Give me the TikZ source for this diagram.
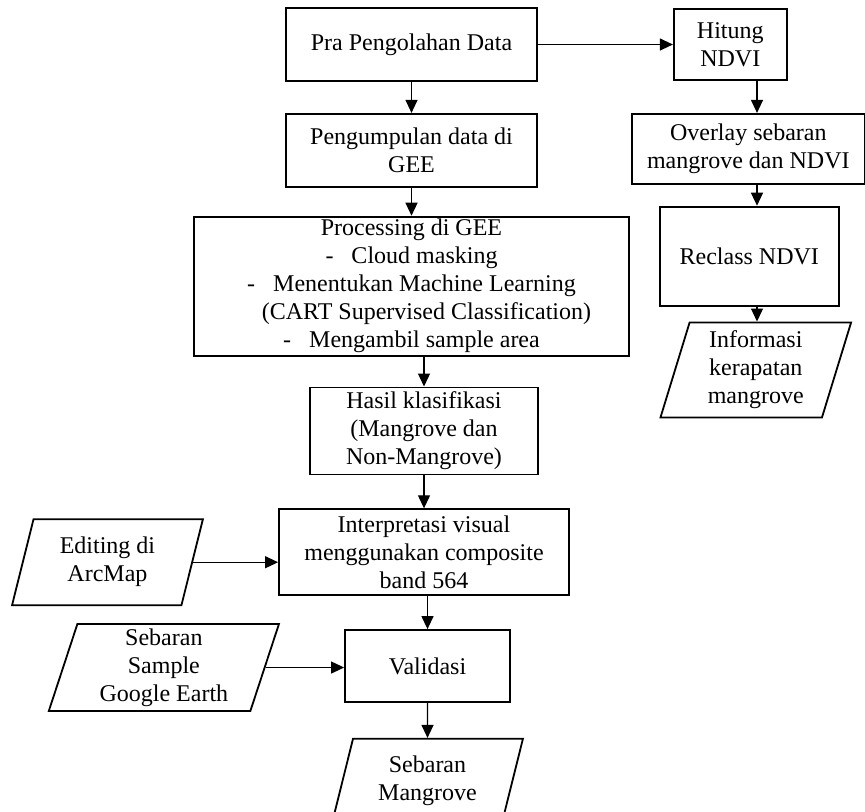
\documentclass[tikz,border=0pt]{standalone}
\usepackage{fontspec}
\setmainfont{Liberation Serif}
\usepackage{tikz}
\usetikzlibrary{positioning, arrows.meta, calc, shapes.geometric}
\tikzset{
  process/.style={
    rectangle, draw, line width=0.9pt, inner sep=1pt,
    align=center, font=\fontsize{12}{14}\selectfont
  },
  dataio/.style={
    trapezium, trapezium left angle=75, trapezium right angle=105,
    trapezium stretches=true, draw, line width=0.9pt, inner sep=1pt,
    align=center, font=\fontsize{12}{14}\selectfont
  },
  every edge/.style={draw, -{Triangle[length=6.5pt,width=6pt]}, line width=0.6pt},
}

\begin{document}
\begin{tikzpicture}[x=0.5pt, y=-0.5pt]
  \useasboundingbox (0,0) rectangle (865,811);
  \coordinate (ncol) at (757,0);
  % kolom utama
  \node[process, minimum width=125.5pt, minimum height=36.5pt] (pra) at (411.5,44.5) {Pra Pengolahan Data};
  \node[process, minimum width=125.5pt, minimum height=36.5pt, below=15.5pt of pra] (kumpul) {Pengumpulan data di\\GEE};
  \node[process, minimum width=217.5pt, minimum height=69.5pt, inner ysep=0pt, below=14pt of kumpul] (proc)
    {Processing di GEE\\
     -\hspace{9pt}Cloud masking\\
     -\hspace{9pt}Menentukan Machine Learning\\
     \hspace*{15pt}(CART Supervised Classification)\\
     -\hspace{9pt}Mengambil sample area};
  \node[process, minimum width=114pt, minimum height=43.5pt, below=15pt of proc, xshift=6.25pt] (hasil)
    {Hasil klasifikasi\\(Mangrove dan\\Non-Mangrove)};
  \node[process, minimum width=145pt, minimum height=43pt, below=16.5pt of hasil] (interp)
    {Interpretasi visual\\menggunakan composite\\band 564};
  \node[process, minimum width=82.5pt, minimum height=36pt, below=16.5pt of interp, xshift=1.75pt] (valid) {Validasi};
  \node[dataio, minimum width=95.5pt, minimum height=42pt, below=17.5pt of valid] (sebmang) {Sebaran\\Mangrove};
  % kolom NDVI
  \node[process, minimum width=56.5pt, minimum height=35.5pt, right=67.5pt of pra] (hitung) {Hitung\\NDVI};
  \node[process, minimum width=116.5pt, minimum height=35pt, below=16pt of hitung, xshift=9pt] (overlay)
    {Overlay sebaran\\mangrove dan NDVI};
  \node[process, minimum width=89.5pt, minimum height=49.5pt, below=10.5pt of overlay, xshift=0.5pt] (reclass) {Reclass NDVI};
  \node[dataio, minimum width=96pt, minimum height=47.5pt, below=7.5pt of reclass, xshift=3.25pt] (info)
    {Informasi\\kerapatan\\mangrove};
  % masukan kiri
  \node[dataio, minimum width=95.5pt, minimum height=43pt, left=42.5pt of interp, yshift=-5pt] (editing) {Editing di\\ArcMap};
  \node[dataio, minimum width=115.5pt, minimum height=43.5pt, left=39.25pt of valid, yshift=-0.75pt] (sebsample)
    {Sebaran\\Sample\\Google Earth};

  \path (pra) edge (hitung)
        (pra) edge (kumpul)
        (kumpul) edge (proc)
        (proc.south -| hasil.north) edge (hasil)
        (hasil) edge (interp)
        (interp.south -| valid.north) edge (valid)
        (valid) edge (sebmang)
        (editing.east) edge (editing.east -| interp.west)
        (sebsample.east) edge (sebsample.east -| valid.west)
        (hitung.south -| ncol) edge (overlay.north -| ncol)
        (overlay.south -| ncol) edge (reclass.north -| ncol)
        (reclass.south -| ncol) edge (info.north -| ncol);
\end{tikzpicture}
\end{document}
